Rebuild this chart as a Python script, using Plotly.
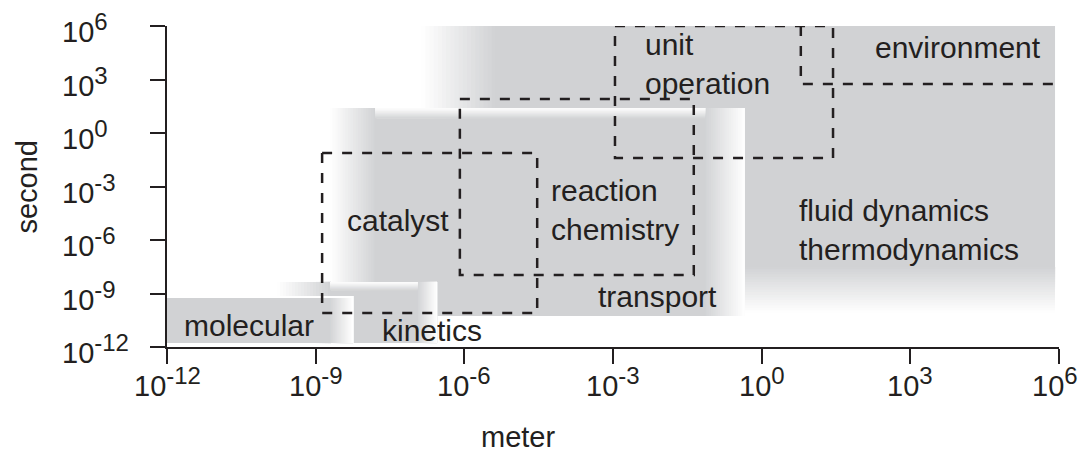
import plotly.graph_objects as go

# ---------------- data (log10 exponents) ----------------
tick_exponents = [-12, -9, -6, -3, 0, 3, 6]
tick_sup = ["-12", "-9", "-6", "-3", "0", "3", "6"]

# shaded scale regions: meter range (x) and second range (y), as log10 bounds
region_names = ["fluid", "transport", "kinetics", "molecular"]
region_x0 = [-6.87, -8.71, -9.78, -12.0]
region_x1 = [5.92, -0.34, -6.55, -8.25]
region_y0 = [-10.09, -10.26, -11.78, -11.78]
region_y1 = [6.0, 1.40, -8.35, -9.2]

# dashed boxes
box_names = ["catalyst", "reaction chemistry", "unit operation"]
box_x0 = [-8.87, -6.09, -2.96]
box_x1 = [-4.53, -1.37, 1.44]
box_y0 = [-10.09, -7.96, -1.40]
box_y1 = [-1.12, 1.91, 6.0]

# environment boundary (open dashed path)
env_x = [0.79, 0.79, 5.92]
env_y = [6.0, 2.75, 2.75]

# labels
label_text = ["unit<br>operation", "environment", "catalyst", "reaction<br>chemistry",
              "fluid dynamics<br>thermodynamics", "transport", "molecular", "kinetics"]
label_x = [-2.40, 3.96, -7.34, -4.29, 0.71, -2.11, -10.35, -6.65]
label_y = [3.87, 4.77, -4.88, -4.32, -5.44, -9.14, -10.82, -11.05]
label_anchor = ["left", "center", "center", "left", "left", "center", "center", "center"]

# ---------------- styles ----------------
GRAY = (209, 210, 212)
WHITE = (255, 255, 255)
INK = "#231f20"
FONT = "Liberation Sans, Arial, sans-serif"
fade_left = [1.49, 0.91, 1.07, 0.0]
fade_right = [0.0, 0.80, 0.39, 0.46]
fade_bottom = [2.58, 0.0, 0.0, 0.0]
bevel_top = [0.0, 0.6, 0.5, 0.0]
xtick_shift = [0, 0, 0, 0, 0, 0, -4]
STEPS = 18


def rgb(c):
    return "rgb(%d,%d,%d)" % tuple(int(round(v)) for v in c)


def mix(a, b, t):
    return tuple(a[j] + (b[j] - a[j]) * t for j in range(3))


def tick_text(s):
    return "10<sup><span style='font-size:24px'>" + s + "</span></sup>"


tick_labels = [tick_text(s) for s in tick_sup]

fig = go.Figure()


def rect(x0, x1, y0, y1, color):
    xs = [10 ** x0, 10 ** x1, 10 ** x1, 10 ** x0, 10 ** x0]
    ys = [10 ** y0, 10 ** y0, 10 ** y1, 10 ** y1, 10 ** y0]
    fig.add_trace(go.Scatter(x=xs, y=ys, mode="lines", fill="toself", fillcolor=rgb(color),
                             line=dict(width=0, color="rgba(0,0,0,0)"),
                             hoverinfo="skip", showlegend=False))


def fade(x0, x1, y0, y1, axis, c_lo, c_hi):
    """stepped gradient; c_lo at low coordinate (left/bottom), c_hi at high side"""
    for k in range(STEPS):
        t = (k + 0.5) / STEPS
        col = mix(c_lo, c_hi, t)
        if axis == "x":
            a = x0 + (x1 - x0) * k / STEPS
            rect(a, x1, y0, y1, col)
        else:
            a = y0 + (y1 - y0) * k / STEPS
            rect(x0, x1, a, y1, col)


eps = 0.02
for i in range(len(region_names)):
    x0, x1, y0, y1 = region_x0[i], region_x1[i], region_y0[i], region_y1[i]
    bx0 = x0 + fade_left[i]
    bx1 = x1 - fade_right[i]
    by0 = y0 + fade_bottom[i]
    by1 = y1 - bevel_top[i]
    if fade_left[i] > 0:
        fade(x0, bx0 + eps, by0, y1, "x", WHITE, GRAY)
    if fade_right[i] > 0:
        fade(bx1 - eps, x1, y0, y1, "x", GRAY, WHITE)
    if fade_bottom[i] > 0:
        fade(x0 + fade_left[i] * 0.5, x1, y0, by0 + eps, "y", WHITE, GRAY)
    rect(bx0, bx1, by0, by1 + eps, GRAY)
    if bevel_top[i] > 0:
        fade(bx0, bx1, by1, y1, "y", GRAY, WHITE)

# molecular white outline edge
i = 3
fig.add_trace(go.Scatter(x=[10 ** region_x0[i], 10 ** region_x1[i], 10 ** region_x1[i]],
                         y=[10 ** region_y1[i], 10 ** region_y1[i], 10 ** region_y0[i]],
                         mode="lines", line=dict(color="white", width=2),
                         hoverinfo="skip", showlegend=False))

DASH = "10px,10px"
for i in range(len(box_names)):
    xs = [10 ** box_x0[i], 10 ** box_x1[i], 10 ** box_x1[i], 10 ** box_x0[i], 10 ** box_x0[i]]
    ys = [10 ** box_y1[i], 10 ** box_y1[i], 10 ** box_y0[i], 10 ** box_y0[i], 10 ** box_y1[i]]
    fig.add_trace(go.Scatter(x=xs, y=ys, mode="lines",
                             line=dict(color=INK, width=2.5, dash=DASH),
                             hoverinfo="skip", showlegend=False))
fig.add_trace(go.Scatter(x=[10 ** v for v in env_x], y=[10 ** v for v in env_y], mode="lines",
                         line=dict(color=INK, width=2.5, dash=DASH),
                         hoverinfo="skip", showlegend=False))

for t, lx, ly, a in zip(label_text, label_x, label_y, label_anchor):
    fig.add_annotation(x=lx, y=ly, xref="x", yref="y", text=t, showarrow=False,
                       xanchor=a, yanchor="middle", align=a,
                       font=dict(family=FONT, size=30, color=INK))

# y tick labels (left aligned)
for e, t in zip(tick_exponents, tick_labels):
    fig.add_annotation(x=-0.12, y=e, xref="paper", yref="y", text=t, showarrow=False,
                       xanchor="left", yanchor="middle", yshift=-2,
                       font=dict(family=FONT, size=29, color=INK))

# x tick labels (centred under the ticks, kept inside the page)
for e, t, s in zip(tick_exponents, tick_labels, xtick_shift):
    fig.add_annotation(x=e, y=-0.109, xref="x", yref="paper", text=t, showarrow=False,
                       xanchor="center", yanchor="middle", xshift=s,
                       font=dict(family=FONT, size=29, color=INK))

fig.add_annotation(x=0.3935, y=-0.279, xref="paper", yref="paper", text="meter",
                   showarrow=False, xanchor="center", yanchor="middle",
                   font=dict(family=FONT, size=29, color=INK))
fig.add_annotation(x=-0.158, y=0.5, xref="paper", yref="paper", text="second",
                   showarrow=False, textangle=-90, xanchor="center", yanchor="middle",
                   font=dict(family=FONT, size=29, color=INK))

axis_common = dict(type="log", range=[-12, 6], showgrid=False, zeroline=False,
                   showline=True, linecolor=INK, linewidth=2,
                   ticks="outside", ticklen=15, tickwidth=2, tickcolor=INK,
                   tickvals=[10 ** e for e in tick_exponents], showticklabels=False)
fig.update_xaxes(**axis_common)
fig.update_yaxes(**axis_common)

# the page body adds 8px margins on every side, so the figure is 16px smaller
fig.update_layout(width=1072, height=442, margin=dict(l=159, r=21, t=18, b=103),
                  plot_bgcolor="white", paper_bgcolor="white")

fig.write_html("out.html")
